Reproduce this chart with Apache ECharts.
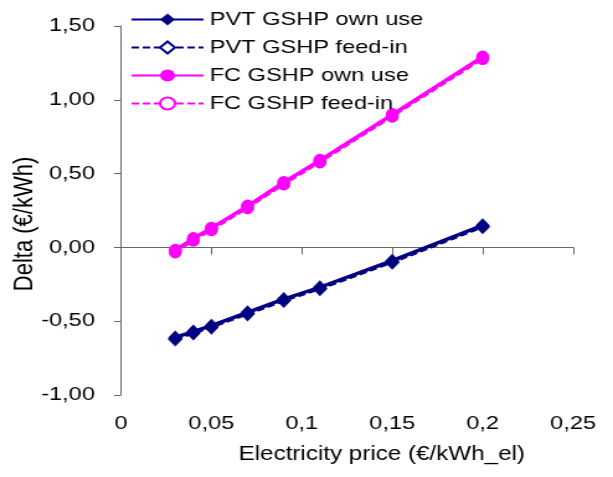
<!DOCTYPE html>
<html>
<head>
<meta charset="utf-8">
<script src="https://cdn.jsdelivr.net/npm/echarts@6/dist/echarts.min.js"></script>
<style>
    html, body { margin: 0; padding: 0; background: #fff; overflow: hidden; }
    /* the source picture has horizontally stretched lettering, so draw
       the chart narrower and widen it back */
    #delta_chart { width: 494px; height: 477px; transform: scaleX(1.24089); transform-origin: 0 0; }
</style>
</head>
<body>
<div id="delta_chart"></div>
<script>
// Data
var seriesNames = ['PVT GSHP own use', 'PVT GSHP feed-in', 'FC GSHP own use', 'FC GSHP feed-in'];
var electricityPrice = [0.03, 0.04, 0.05, 0.07, 0.09, 0.11, 0.15, 0.20];
var pvtOwnUse = [-0.61, -0.57, -0.53, -0.44, -0.35, -0.27, -0.09, 0.15];
var pvtFeedIn = [-0.62, -0.58, -0.54, -0.45, -0.36, -0.28, -0.10, 0.14];
var fcOwnUse = [-0.02, 0.06, 0.13, 0.28, 0.44, 0.59, 0.90, 1.29];
var fcFeedIn = [-0.03, 0.05, 0.12, 0.27, 0.43, 0.58, 0.89, 1.28];

var pairs = function(ys) {
    return electricityPrice.map(function(x, i) { return [x, ys[i]]; });
};

// horizontal stretch applied by css, markers are narrowed to stay round
var sx = 1.24089;
var mark = function(size) { return [size / sx, size]; };

var delta_chart_element = document.getElementById('delta_chart');

if (delta_chart_element) {

    var delta_chart = echarts.init(delta_chart_element);

    var axisColor = '#666666';
    var font = 'Arial, "Liberation Sans", sans-serif';

    delta_chart.setOption({
        animation: false,
        textStyle: {
            fontFamily: font,
            color: '#000'
        },
        grid: {
            left: 97.5,
            right: 32.2,
            top: 26,
            bottom: 82,
            containLabel: false,
            outerBoundsMode: 'none'
        },
        legend: {
            orient: 'vertical',
            left: 105,
            top: 10,
            padding: 0,
            itemWidth: 58,
            itemHeight: 15,
            itemGap: 9,
            data: seriesNames,
            textStyle: {
                fontSize: 19,
                color: '#000'
            }
        },
        xAxis: {
            type: 'value',
            min: 0,
            max: 0.25,
            interval: 0.05,
            name: 'Electricity price (€/kWh_el)',
            nameLocation: 'middle',
            nameGap: 50,
            nameMoveOverlap: false,
            nameTextStyle: {
                fontSize: 19.5,
                color: '#000',
                padding: [0, 0, 0, 56]
            },
            axisLine: { lineStyle: { color: axisColor, width: 1 } },
            axisTick: { inside: false, length: 7, lineStyle: { color: axisColor } },
            splitLine: { show: false },
            axisLabel: {
                fontSize: 19,
                color: '#000',
                margin: 19,
                formatter: function(v) { return String(+v.toFixed(2)).replace('.', ','); }
            }
        },
        yAxis: {
            type: 'value',
            min: -1,
            max: 1.5,
            interval: 0.5,
            name: 'Delta (€/kWh)',
            nameLocation: 'middle',
            nameGap: 67,
            nameMoveOverlap: false,
            nameTextStyle: {
                fontSize: 22,
                color: '#000',
                padding: [0, 27, 0, 0]
            },
            axisLine: { show: true, lineStyle: { color: axisColor, width: 1 } },
            axisTick: { show: true, inside: false, length: 5.6, lineStyle: { color: axisColor } },
            splitLine: { show: false },
            axisLabel: {
                fontSize: 19,
                color: '#000',
                margin: 21,
                formatter: function(v) { return v.toFixed(2).replace('.', ','); }
            }
        },
        // feed-in drawn first so own use markers sit on top
        series: [{
                name: seriesNames[1],
                type: 'line',
                data: pairs(pvtFeedIn),
                symbol: 'diamond',
                symbolSize: mark(12),
                itemStyle: { color: '#fff', borderColor: '#000080', borderWidth: 2 },
                lineStyle: { color: '#000080', width: 3, type: [6, 3] }
            }, {
                name: seriesNames[3],
                type: 'line',
                data: pairs(fcFeedIn),
                symbol: 'circle',
                symbolSize: mark(11),
                itemStyle: { color: '#fff', borderColor: '#ff00ff', borderWidth: 2 },
                lineStyle: { color: '#ff00ff', width: 3, type: [6, 3] }
            }, {
                name: seriesNames[0],
                type: 'line',
                data: pairs(pvtOwnUse),
                symbol: 'diamond',
                symbolSize: mark(14),
                itemStyle: { color: '#000080' },
                lineStyle: { color: '#000080', width: 3.5 }
            }, {
                name: seriesNames[2],
                type: 'line',
                data: pairs(fcOwnUse),
                symbol: 'circle',
                symbolSize: mark(13),
                itemStyle: { color: '#ff00ff' },
                lineStyle: { color: '#ff00ff', width: 3.5 }
            }]
    });
}
</script>
</body>
</html>
